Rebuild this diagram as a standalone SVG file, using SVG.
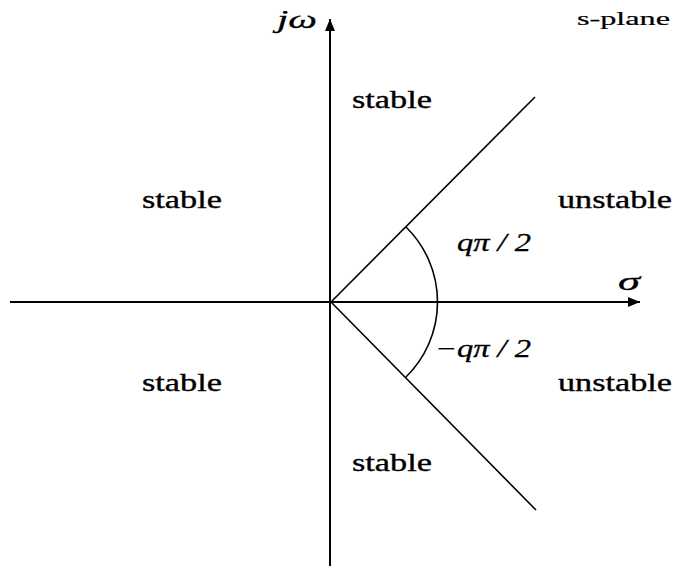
<svg xmlns="http://www.w3.org/2000/svg" width="676" height="568" viewBox="0 0 676 568">
<style>
.ax{stroke:#000;stroke-width:2;fill:none}
.ln{stroke:#000;stroke-width:1.6;fill:none}
.lbl{font-family:"Liberation Serif","Times New Roman",serif;font-size:25px;fill:#000;stroke:#000;stroke-width:0.35}
.math{font-family:"Liberation Serif","Times New Roman",serif;font-style:italic;font-size:25px;fill:#000;stroke:#000;stroke-width:0.3}
</style>
<defs>
<marker id="ah" viewBox="0 0 12 10" refX="12" refY="5" markerWidth="12" markerHeight="10" markerUnits="userSpaceOnUse" orient="auto">
<path d="M0,0 L12,5 L0,10 Z" fill="#000"/>
</marker>
</defs>
<rect width="676" height="568" fill="#fff"/>
<g id="connectors">
<line class="ax" x1="10" y1="302" x2="640" y2="302" marker-end="url(#ah)"/>
<line class="ax" x1="330" y1="566" x2="330" y2="19" marker-end="url(#ah)"/>
<line class="ln" x1="331" y1="302" x2="535" y2="97"/>
<line class="ln" x1="331" y1="302" x2="536" y2="510"/>
<path class="ln" d="M406,227 A105,105 0 0 1 406,377"/>
</g>
<g id="labels">
<text class="math" x="277" y="28" textLength="40" lengthAdjust="spacingAndGlyphs">jω</text>
<text class="lbl" x="577" y="25" textLength="93" lengthAdjust="spacingAndGlyphs" style="font-size:18px;stroke-width:0.2">s-plane</text>
<text id="stable-top" class="lbl" x="352" y="108" textLength="80" lengthAdjust="spacingAndGlyphs">stable</text>
<text id="stable-ul" class="lbl" x="142" y="208" textLength="80" lengthAdjust="spacingAndGlyphs">stable</text>
<text id="unstable-ur" class="lbl" x="558" y="208" textLength="114" lengthAdjust="spacingAndGlyphs">unstable</text>
<text class="math" x="457" y="251" textLength="74" lengthAdjust="spacingAndGlyphs">qπ / 2</text>
<text class="math" x="618" y="290" textLength="22" lengthAdjust="spacingAndGlyphs">σ</text>
<text class="math" x="435" y="357" textLength="96" lengthAdjust="spacingAndGlyphs">−qπ / 2</text>
<text id="stable-ll" class="lbl" x="142" y="391" textLength="80" lengthAdjust="spacingAndGlyphs">stable</text>
<text id="unstable-lr" class="lbl" x="558" y="391" textLength="114" lengthAdjust="spacingAndGlyphs">unstable</text>
<text id="stable-bottom" class="lbl" x="352" y="471" textLength="80" lengthAdjust="spacingAndGlyphs">stable</text>
</g>
</svg>
